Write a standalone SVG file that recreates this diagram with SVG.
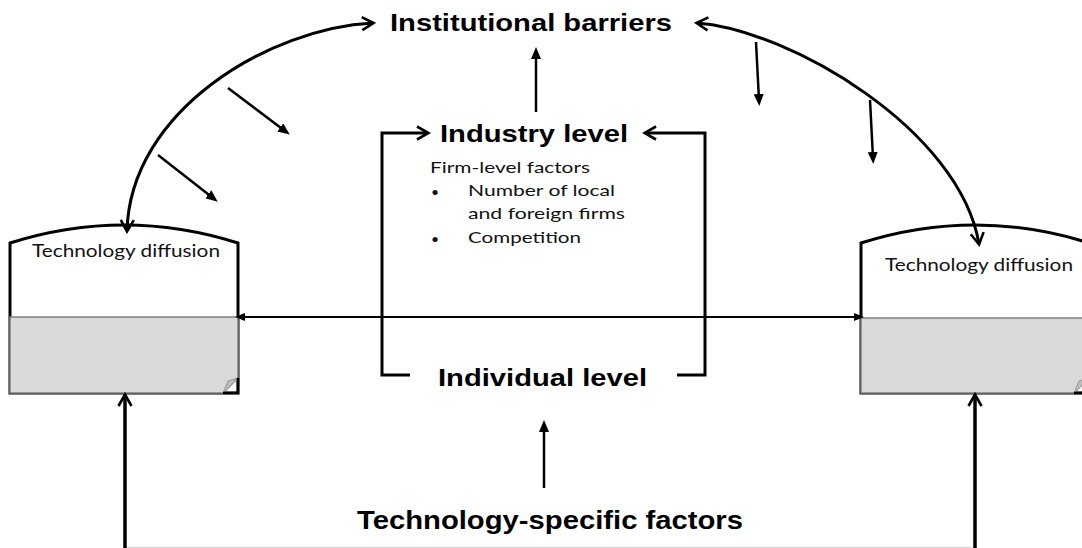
<svg xmlns="http://www.w3.org/2000/svg" width="1082" height="548" viewBox="0 0 1082 548">
<style>
.hd{font-family:"Liberation Sans",Arial,sans-serif;font-weight:bold;fill:#000}
.sm{font-family:Lato,"Open Sans",sans-serif;fill:#111}
.thick{fill:none;stroke:#000;stroke-width:3}
.thin{fill:none;stroke:#000;stroke-width:2.5}
.outline{fill:#fff;stroke:#000;stroke-width:3}
.gray{fill:#d9d9d9;stroke:#808080;stroke-width:1.5}
.fold{fill:#bdbdbd;stroke:#9a9a9a;stroke-width:1}
.corner{fill:none;stroke:#000;stroke-width:2.5}
</style>
<defs>
<marker id="open" viewBox="0 0 16 16" refX="13" refY="8" markerWidth="16" markerHeight="16" markerUnits="userSpaceOnUse" orient="auto-start-reverse">
<path d="M2,1.5 L13.5,8 L2,14.5" fill="none" stroke="#000" stroke-width="2.6"/>
</marker>
<marker id="fill" viewBox="0 0 12 10" refX="6" refY="5" markerWidth="12" markerHeight="10" markerUnits="userSpaceOnUse" orient="auto-start-reverse">
<path d="M0,0 L12,5 L0,10 Z" fill="#000"/>
</marker>
<marker id="fillsm" viewBox="0 0 10 8" refX="5" refY="4" markerWidth="10" markerHeight="8" markerUnits="userSpaceOnUse" orient="auto-start-reverse">
<path d="M0,0 L10,4 L0,8 Z" fill="#000"/>
</marker>
</defs>

<rect x="0" y="0" width="1082" height="548" fill="#fff"/>

<g id="left-box">
<path class="outline" d="M10,393 L10,243 Q124,207 238,243 L238,393 Z"/>
<path class="gray" d="M10,317 L238,317 L238,378 L223,393 L10,393 Z"/>
<path class="fold" d="M223,393 L238,378 L228,381 Z"/>
<path class="corner" d="M223,393 L238,393 L238,378"/>
<text class="sm" x="32" y="257" font-size="16.5" textLength="188" lengthAdjust="spacingAndGlyphs">Technology diffusion</text>
</g>

<g id="right-box">
<path class="outline" d="M861,393 L861,243 Q975,207 1089,243 L1089,393 Z"/>
<path class="gray" d="M861,318 L1089,318 L1089,378 L1074,393 L861,393 Z"/>
<path class="fold" d="M1074,393 L1089,378 L1079,381 Z"/>
<path class="corner" d="M1074,393 L1089,393"/>
<text class="sm" x="885" y="271" font-size="16.5" textLength="188" lengthAdjust="spacingAndGlyphs">Technology diffusion</text>
</g>

<g id="institutional-barriers">
<text class="hd" x="390" y="31" font-size="24" textLength="282" lengthAdjust="spacingAndGlyphs">Institutional barriers</text>
</g>

<g id="industry-level">
<text class="hd" x="440" y="142" font-size="24.5" textLength="188" lengthAdjust="spacingAndGlyphs">Industry level</text>
<text class="sm" x="430" y="173" font-size="15" textLength="160" lengthAdjust="spacingAndGlyphs">Firm-level factors</text>
<text class="sm" x="431" y="197" font-size="14">•</text>
<text class="sm" x="468" y="196" font-size="15" textLength="147" lengthAdjust="spacingAndGlyphs">Number of local</text>
<text class="sm" x="468" y="219" font-size="15" textLength="157" lengthAdjust="spacingAndGlyphs">and foreign firms</text>
<text class="sm" x="431" y="244" font-size="14">•</text>
<text class="sm" x="468" y="243" font-size="15" textLength="113" lengthAdjust="spacingAndGlyphs">Competition</text>
</g>

<g id="individual-level">
<text class="hd" x="438" y="386" font-size="24.5" textLength="209" lengthAdjust="spacingAndGlyphs">Individual level</text>
</g>

<g id="technology-specific-factors">
<text class="hd" x="357" y="529" font-size="25.5" textLength="386" lengthAdjust="spacingAndGlyphs">Technology-specific factors</text>
</g>

<g id="connectors">
<path class="thick" d="M373,23 C270,28 130,110 127,231" marker-start="url(#open)" marker-end="url(#open)"/>
<path class="thick" d="M697,23 C790,30 960,130 979,244" marker-start="url(#open)" marker-end="url(#open)"/>
<path class="thick" d="M410,375 L382,375 L382,133 L428,133" marker-end="url(#open)"/>
<path class="thick" d="M677,375 L705,375 L705,133 L645,133" marker-end="url(#open)"/>
<path d="M240,317 L859,317" fill="none" stroke="#000" stroke-width="1.8" marker-start="url(#fillsm)" marker-end="url(#fillsm)"/>
<path class="thin" d="M536,112 L536,53" marker-end="url(#fill)"/>
<path class="thin" d="M228,88 L285,131" marker-end="url(#fill)"/>
<path class="thin" d="M158,155 L213,198" marker-end="url(#fill)"/>
<path class="thin" d="M756,42 L759,100" marker-end="url(#fill)"/>
<path class="thin" d="M870,100 L873,158" marker-end="url(#fill)"/>
<path class="thin" d="M544,488 L544,426" marker-end="url(#fill)"/>
<path d="M125,548 L125,395" fill="none" stroke="#000" stroke-width="3.5" marker-end="url(#open)"/>
<path d="M975,548 L975,395" fill="none" stroke="#000" stroke-width="3.5" marker-end="url(#open)"/>
<path d="M127,547.5 L973,547.5" fill="none" stroke="#dcdcdc" stroke-width="1.5"/>
</g>
</svg>
